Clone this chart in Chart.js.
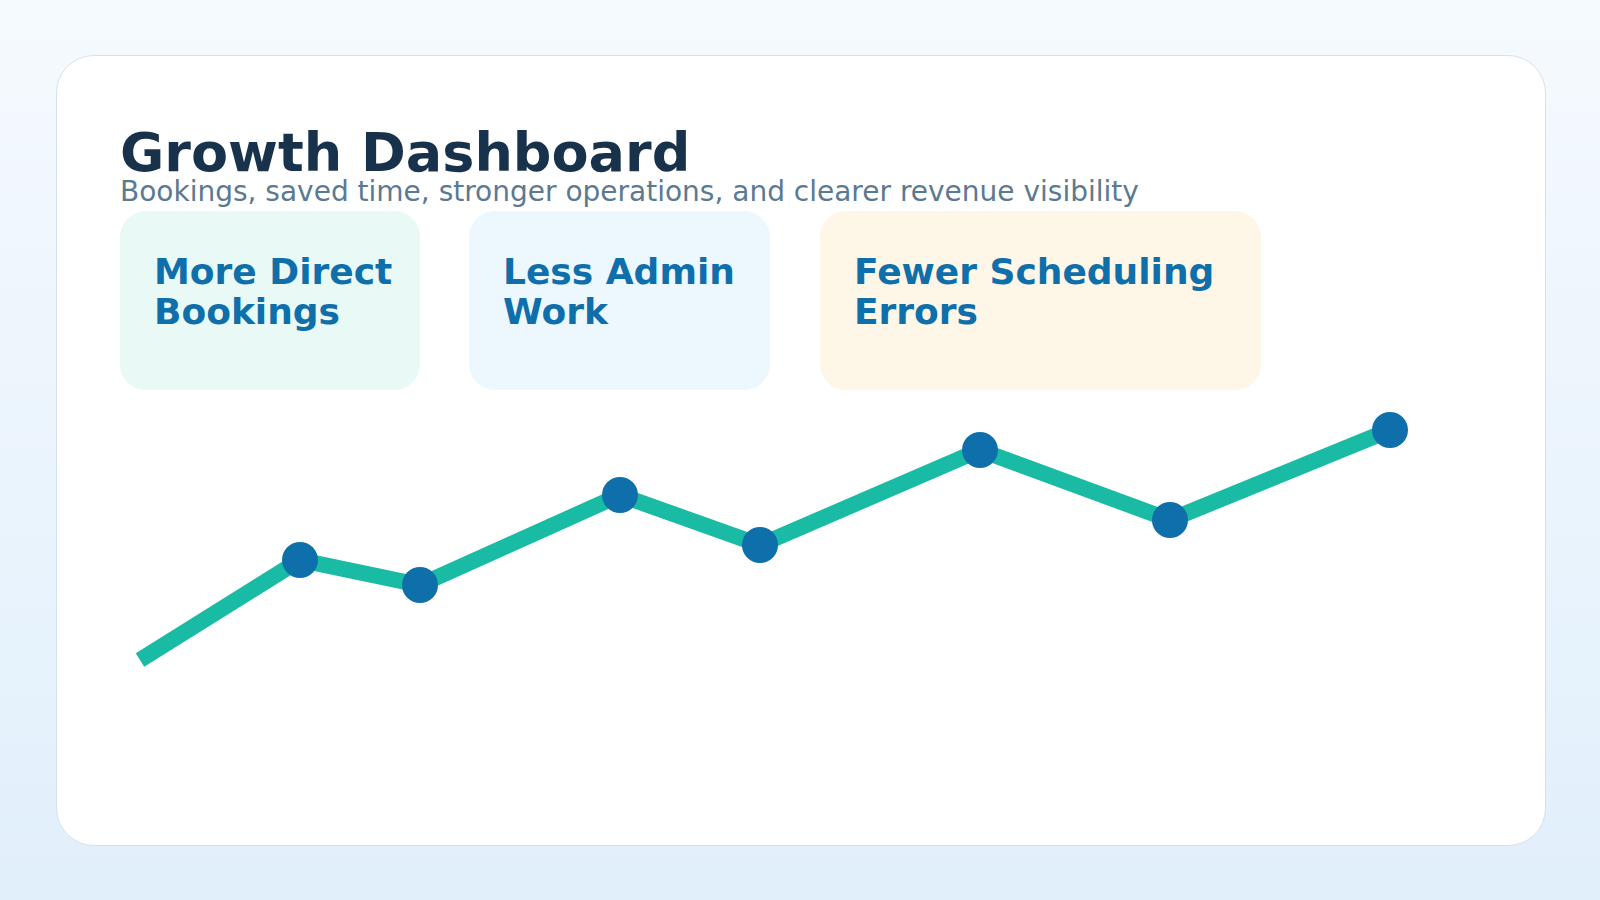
<!DOCTYPE html>
<html>
<head>
<meta charset="utf-8">
<script src="https://cdn.jsdelivr.net/npm/chart.js@4.4.1/dist/chart.umd.min.js"></script>
<style>
    html, body {
        margin: 0;
        padding: 0;
        width: 1600px;
        height: 900px;
        overflow: hidden;
        font-family: "DejaVu Sans", sans-serif;
        background: linear-gradient(180deg, #f5fafe 0%, #e1effb 100%);
    }
    .card {
        position: absolute;
        left: 56px;
        top: 55px;
        width: 1490px;
        height: 791px;
        box-sizing: border-box;
        background: #ffffff;
        border: 1px solid #d4e2ee;
        border-radius: 38px;
    }
    .title {
        position: absolute;
        left: 120px;
        top: 126px;
        font-size: 54px;
        line-height: 1;
        font-weight: bold;
        color: #17324a;
        white-space: nowrap;
    }
    .subtitle {
        position: absolute;
        left: 120px;
        top: 178px;
        font-size: 28px;
        line-height: 1;
        color: #5b7a92;
        white-space: nowrap;
    }
    .tile {
        position: absolute;
        top: 211px;
        height: 179px;
        box-sizing: border-box;
        padding: 41px 0 0 34px;
        border-radius: 26px;
        font-size: 36px;
        line-height: 40px;
        font-weight: bold;
        color: #0f6fab;
    }
    #chartWrap {
        position: absolute;
        left: 100px;
        top: 400px;
        width: 1330px;
        height: 300px;
    }
</style>
</head>
<body>
<div class="card"></div>
<div class="title">Growth Dashboard</div>
<div class="subtitle">Bookings, saved time, stronger operations, and clearer revenue visibility</div>
<div class="tile" style="left:120px; width:300px; background:#e9f9f5;">More Direct<br>Bookings</div>
<div class="tile" style="left:469px; width:301px; background:#edf7fe;">Less Admin<br>Work</div>
<div class="tile" style="left:820px; width:441px; background:#fef6e7;">Fewer Scheduling<br>Errors</div>
<div id="chartWrap"><canvas id="growthChart"></canvas></div>

<script>
// Growth trend (week index -> growth index)
const weeks = [0, 8, 14, 24, 31, 42, 51.5, 62.5];
const growth = [10, 60, 47.5, 92.5, 67.5, 115, 80, 125];
const markerSizes = [0, 18, 18, 18, 18, 18, 18, 18];

const points = weeks.map((w, i) => ({ x: w, y: growth[i] }));

const ctx = document.getElementById('growthChart').getContext('2d');
new Chart(ctx, {
    type: 'line',
    data: {
        datasets: [{
            data: points,
            borderColor: '#19bba5',
            borderWidth: 16,
            borderCapStyle: 'butt',
            borderJoinStyle: 'miter',
            tension: 0,
            fill: false,
            clip: false,
            pointRadius: markerSizes,
            pointHoverRadius: markerSizes,
            pointBackgroundColor: '#0f6fab',
            pointBorderWidth: 0
        }]
    },
    options: {
        responsive: true,
        maintainAspectRatio: false,
        animation: false,
        layout: {
            padding: { left: 40, right: 40, top: 30, bottom: 40 }
        },
        plugins: {
            legend: { display: false },
            tooltip: { enabled: false }
        },
        scales: {
            x: { type: 'linear', min: 0, max: 62.5, display: false },
            y: { min: 10, max: 125, display: false }
        }
    }
});
</script>
</body>
</html>
